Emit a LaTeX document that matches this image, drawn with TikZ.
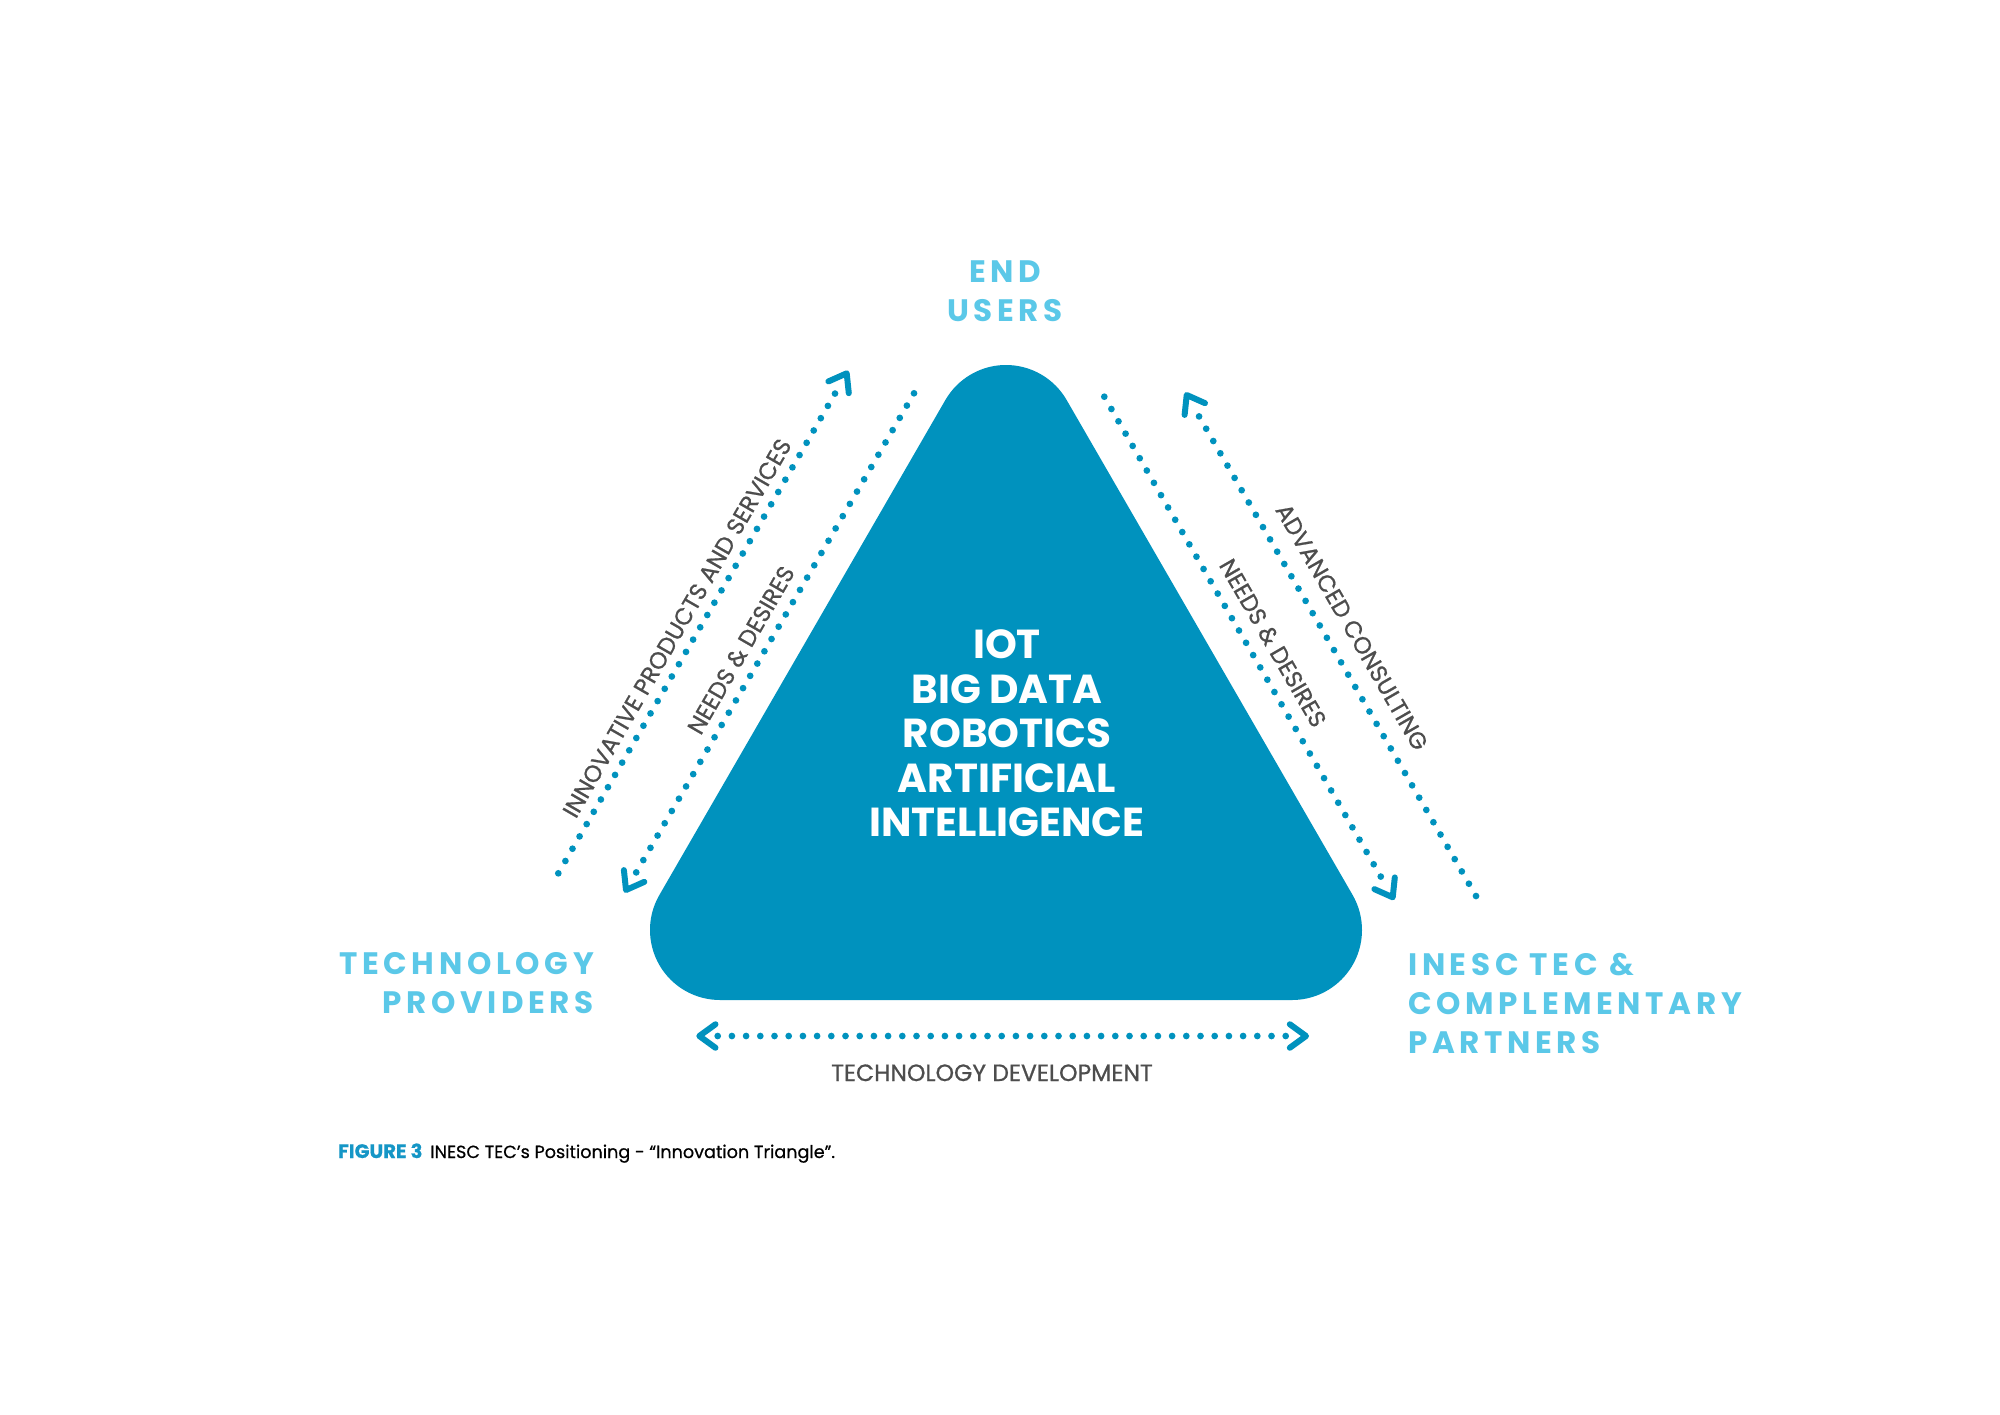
\documentclass[tikz,border=0pt]{standalone}
\usepackage{fontspec}
\setmainfont{Poppins}
\newfontfamily\ttlfont[LetterSpace=15]{Poppins}
\newfontfamily\lblfont[FakeBold=0.8]{Poppins}
\newfontfamily\capfont[FakeBold=0.6]{Poppins}
\usetikzlibrary{calc}
\definecolor{tri}{HTML}{0092BE}
\definecolor{ttlc}{HTML}{5BC8E8}
\definecolor{lblc}{HTML}{4D4D4D}
\definecolor{capblue}{HTML}{1596C6}
\tikzset{
  dots/.style={draw=tri, line width=6.7pt, line cap=round, dash pattern=on 0pt off 14.2pt},
  chev/.style={draw=tri, line width=6pt, line cap=round, line join=round},
  ttl/.style={text=ttlc, font=\ttlfont\bfseries\fontsize{31}{39}\selectfont, inner sep=0pt},
  lbl/.style={text=lblc, font=\lblfont\fontsize{23.5}{28}\selectfont, inner sep=0pt},
  core/.style={text=white, font=\bfseries\fontsize{40.5}{44.4}\selectfont, align=center, inner sep=0pt}
}
\begin{document}
\begin{tikzpicture}[x=1pt,y=1pt]
\useasboundingbox (0,0) rectangle (2000,-1414);
\fill[white] (0,0) rectangle (2000,-1414);
% rounded equilateral triangle
\path[fill=tri] (720,-1000) -- (1292,-1000)
  arc[start angle=-90,end angle=30,radius=70]
  -- ($(1006,-435)+(30:70)$) arc[start angle=30,end angle=150,radius=70]
  -- ($(720,-930)+(150:70)$) arc[start angle=150,end angle=270,radius=70] -- cycle;
\node[core, anchor=base] (core) at (1007,-836.5) {IOT\\BIG DATA\\ROBOTICS\\ARTIFICIAL\\INTELLIGENCE};
% titles (base anchor = last line)
\node[ttl, align=center, anchor=base] (end) at (1005,-321.5) {END\\USERS};
\node[ttl, align=right, anchor=base east] (tp) at (594,-1013) {TECHNOLOGY\\PROVIDERS};
\node[ttl, align=left, anchor=base west] (inesc) at (1408,-1053) {INESC TEC \&\\COMPLEMENTARY\\PARTNERS};
% coordinates
\coordinate (LOa) at (558.3,-873.3); \coordinate (LOb) at (846.7,-373.3);
\coordinate (LIa) at (914,-393.3);   \coordinate (LIb) at (626,-890);
\coordinate (RIa) at (1104.3,-396.7); \coordinate (RIb) at (1392.7,-897.3);
\coordinate (ROa) at (1186.7,-395);  \coordinate (ROb) at (1476,-896);
\coordinate (BL) at (699.3,-1036);   \coordinate (BR) at (1306,-1036);
% dotted connectors
\draw[dots] (LOa) -- ($(LOb)!19pt!(LOa)$);
\draw[chev] (LOb) ++(204:20) -- (LOb) -- ++(276:20);
\draw[dots] (LIa) -- ($(LIb)!18pt!(LIa)$);
\draw[chev] (LIb) ++(24:20) -- (LIb) -- ++(96:20);
\draw[dots] (RIa) -- ($(RIb)!18pt!(RIa)$);
\draw[chev] (RIb) ++(84:20) -- (RIb) -- ++(156:20);
\draw[dots] (ROb) -- ($(ROa)!18pt!(ROb)$);
\draw[chev] (ROa) ++(264:20) -- (ROa) -- ++(336:20);
\draw[dots] ($(BL)!18.4pt!(BR)$) -- ($(BR)!18.7pt!(BL)$);
\draw[chev] (BL) ++(36:20) -- (BL) -- ++(-36:20);
\draw[chev] (BR) ++(144:20) -- (BR) -- ++(216:20);
% labels
\node[lbl, rotate=60] (innov) at (677,-628) {INNOVATIVE PRODUCTS AND SERVICES};
\node[lbl, rotate=60] (ndl) at (741,-650) {NEEDS \& DESIRES};
\node[lbl, rotate=-60] (ndr) at (1273,-643) {NEEDS \& DESIRES};
\node[lbl, rotate=-60] (adv) at (1352,-627) {ADVANCED CONSULTING};
\node[lbl, anchor=base] (tdev) at (992,-1081) {TECHNOLOGY DEVELOPMENT};
% caption
\node[anchor=base west, inner sep=0pt, font=\capfont\fontsize{17.6}{22}\selectfont] (cap) at (338,-1158)
  {{\bfseries\fontsize{19.5}{22}\selectfont\color{capblue}FIGURE 3}\hspace{0.45em}INESC TEC’s Positioning - “Innovation Triangle”.};
\end{tikzpicture}
\end{document}
